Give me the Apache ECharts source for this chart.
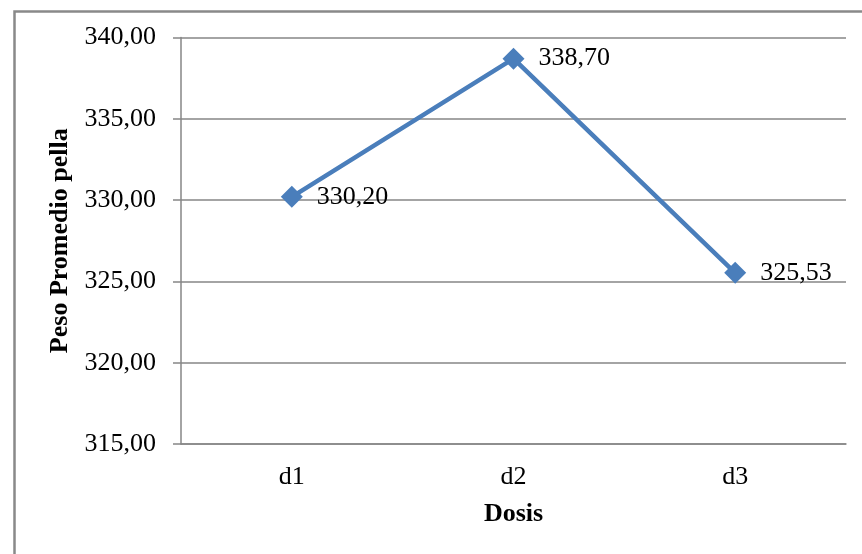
<!DOCTYPE html>
<html>
<head>
<meta charset="utf-8">
<script src="https://cdn.jsdelivr.net/npm/echarts@6/dist/echarts.min.js"></script>
<style>
html,body{margin:0;padding:0;background:#fff;}
#c{width:862px;height:554px;}
</style>
</head>
<body>
<div id="c"></div>
<script>
const categories = ['d1', 'd2', 'd3'];
const values = [330.20, 338.70, 325.53];
const yTicks = [315, 320, 325, 330, 335, 340];

const fmt = v => v.toFixed(2).replace('.', ',');
const font = '"Liberation Serif", "Times New Roman", serif';

const chart = echarts.init(document.getElementById('c'), null, {renderer: 'canvas'});
chart.setOption({
  animation: false,
  backgroundColor: '#fff',
  graphic: [{
    type: 'rect', left: 12, top: 9, silent: true,
    shape: {width: 900, height: 600},
    style: {fill: 'none', stroke: '#898989', lineWidth: 2.5}
  }],
  grid: {left: 181, right: 16, top: 37.5, bottom: 110, containLabel: false},
  xAxis: {
    type: 'category',
    data: categories,
    boundaryGap: true,
    name: 'Dosis',
    nameLocation: 'middle',
    nameGap: 57,
    nameTextStyle: {fontFamily: font, fontSize: 26, fontWeight: 'bold', color: '#000'},
    axisLine: {lineStyle: {color: '#868686', width: 1.5}},
    axisTick: {show: false},
    axisLabel: {fontFamily: font, fontSize: 26, color: '#000', margin: 20}
  },
  yAxis: {
    type: 'value',
    min: yTicks[0],
    max: yTicks[yTicks.length - 1],
    interval: 5,
    name: 'Peso Promedio pella',
    nameLocation: 'middle',
    nameGap: 99,
    nameTextStyle: {fontFamily: font, fontSize: 26, fontWeight: 'bold', color: '#000'},
    axisLine: {show: true, lineStyle: {color: '#868686', width: 1.5}},
    axisTick: {show: true, length: 8, lineStyle: {color: '#868686', width: 1.5}},
    splitLine: {show: true, lineStyle: {color: '#868686', width: 1.5}},
    axisLabel: {fontFamily: font, fontSize: 26, color: '#000', margin: 25, formatter: v => fmt(v)}
  },
  series: [{
    type: 'line',
    data: values,
    symbol: 'diamond',
    symbolSize: 22,
    lineStyle: {color: '#4A7EBB', width: 4.5},
    itemStyle: {color: '#4A7EBB'},
    label: {
      show: true, position: 'right', distance: 14,
      fontFamily: font, fontSize: 26, color: '#000',
      formatter: p => fmt(p.value)
    }
  }]
});
</script>
</body>
</html>
